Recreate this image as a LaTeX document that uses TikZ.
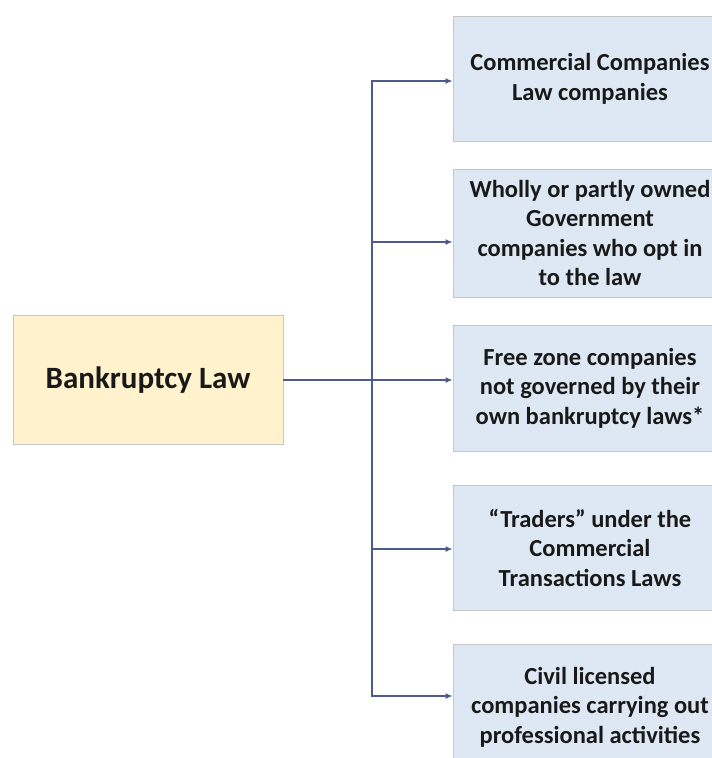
\documentclass[tikz,border=0pt]{standalone}
\usepackage{fontspec}
\setmainfont{Carlito}
\usepackage{tikz}
\usetikzlibrary{arrows.meta}

\definecolor{lawfill}{HTML}{FFF2CC}
\definecolor{kindfill}{HTML}{DDE8F4}
\definecolor{linkcol}{HTML}{4A5B8C}
\definecolor{tipcol}{HTML}{1F3C88}

\tikzset{
  lawbox/.style={draw=gray!45, line width=0.8pt, fill=lawfill, text=black!90,
    minimum width=270pt, minimum height=129pt,
    font=\bfseries\fontsize{31}{37}\selectfont},
  kindbox/.style={draw=gray!45, line width=0.8pt, fill=kindfill, text=black!90,
    minimum width=274pt, align=center,
    font=\bfseries\fontsize{24.5}{29.5}\selectfont},
  link/.style={draw=linkcol, line width=1.5pt},
  arr/.style={link, -{Latex[length=7pt,width=6pt,fill=tipcol]}}
}

\begin{document}
\begin{tikzpicture}[x=1pt,y=-1pt]
   \path[use as bounding box, fill=white] (0,0) rectangle (712,758);
   \clip (0,0) rectangle (712,758);

   % the law on the left
   \node[lawbox] (law) at (148,380) {Bankruptcy Law};

   % the kinds of companies it covers
   \node[kindbox, minimum height=125pt] (c1) at (590,79)
     {Commercial Companies\\Law companies};
   \node[kindbox, minimum height=128pt] (c2) at (590,233)
     {Wholly or partly owned\\Government\\companies who opt in\\to the law};
   \node[kindbox, minimum height=126pt] (c3) at (590,388)
     {Free zone companies\\not governed by their\\own bankruptcy laws*};
   \node[kindbox, minimum height=125pt] (c4) at (590,548)
     {“Traders” under the\\Commercial\\Transactions Laws};
   \node[kindbox, minimum height=126pt] (c5) at (590,707)
     {Civil licensed\\companies carrying out\\professional activities};

   % branch points on the trunk
   \foreach \k/\y in {1/81,2/242,3/380,4/549,5/696}
     \coordinate (j\k) at (372,\y);

   \draw[link] (law.east) -- (j3);
   \draw[arr] (j3) -- (j1) -- (j1 -| c1.west);
   \draw[arr] (j3) -- (j5) -- (j5 -| c5.west);
   \foreach \k in {2,3,4}
     \draw[arr] (j\k) -- (j\k -| c\k.west);
\end{tikzpicture}
\end{document}
